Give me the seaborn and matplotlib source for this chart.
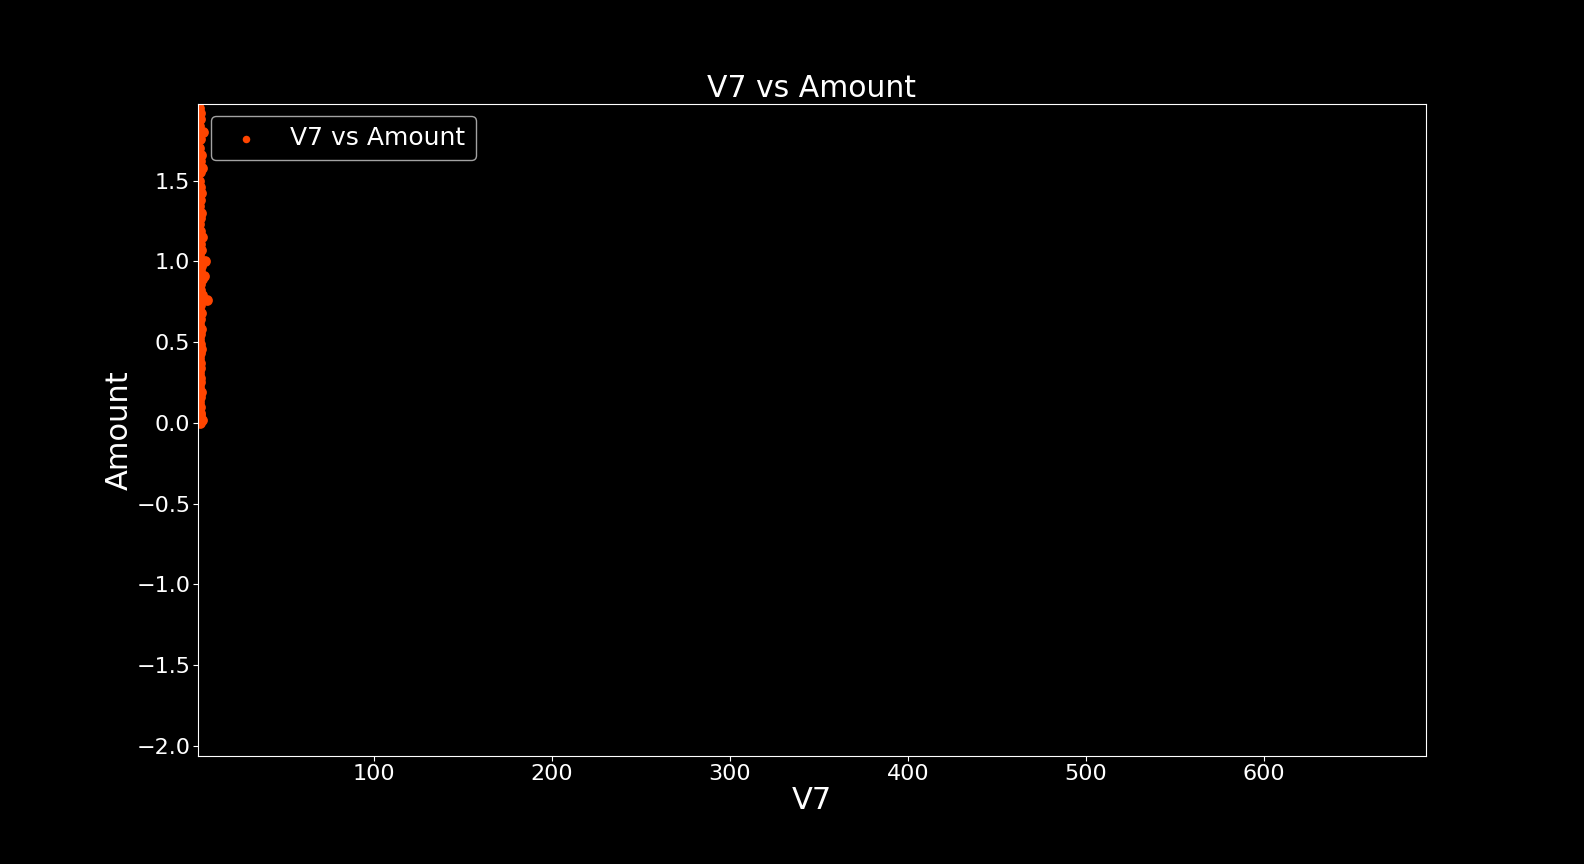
import pandas as pd
import numpy as np
import seaborn as sns
import matplotlib.pyplot as plt

# Valores (V7 pequeno, Amount escalado)
v7 = [1.6, 2.1, 2.4, 1.9, 3.8, 2.2, 1.8, 2.6, 2.0, 3.1,
      2.3, 1.7, 2.5, 2.9, 2.2, 1.9, 2.7, 2.1, 1.8, 2.4,
      3.3, 2.0, 2.6, 1.7, 2.3, 2.8, 2.1, 5.2, 3.6, 4.4,
      2.5, 2.0, 3.2, 2.7, 6.2, 2.2, 1.9, 3.0, 2.4, 1.8,
      2.6, 2.1, 1.9, 2.3, 2.8, 2.0, 1.7, 2.5, 2.2, 1.9,
      2.4, 2.0, 1.8, 2.6, 2.1, 1.9, 2.2, 1.7, 2.0, 3.1,
      2.3, 2.1, 1.9, 2.0]
amount = [1.95, 1.92, 1.88, 1.84, 1.80, 1.76, 1.70, 1.66, 1.62, 1.58,
          1.55, 1.50, 1.46, 1.42, 1.38, 1.34, 1.30, 1.27, 1.23, 1.19,
          1.15, 1.11, 1.07, 1.04, 1.00, 0.97, 0.94, 1.00, 0.89, 0.91,
          0.86, 0.82, 0.79, 0.77, 0.76, 0.73, 0.70, 0.68, 0.64, 0.61,
          0.58, 0.55, 0.52, 0.49, 0.46, 0.43, 0.40, 0.37, 0.34, 0.31,
          0.28, 0.25, 0.22, 0.19, 0.16, 0.13, 0.10, 0.08, 0.05, 0.02,
          0.01, 0.00, 0.03, 0.06]

df = pd.DataFrame({'V7': v7, 'Amount': amount})

plt.style.use('dark_background')
fig, ax = plt.subplots(figsize=(15.84, 8.64), dpi=100)
sns.scatterplot(data=df, x='V7', y='Amount', color='orangered', s=60,
                edgecolor='orangered', linewidth=0, label='V7 vs Amount', ax=ax)
ax.set_xlim(1.1, 691)
ax.set_ylim(-2.063, 1.976)
ax.set_title('V7 vs Amount', fontsize=21.5, pad=5)
ax.set_xlabel('V7', fontsize=22, labelpad=1.5)
ax.set_ylabel('Amount', fontsize=22, labelpad=2)
ax.tick_params(labelsize=16, pad=2)
ax.legend(loc='upper left', fontsize=18, markerscale=0.7)
fig.subplots_adjust(left=0.125, right=0.9, top=0.88, bottom=0.125)
fig.savefig('out.png', dpi=100)
